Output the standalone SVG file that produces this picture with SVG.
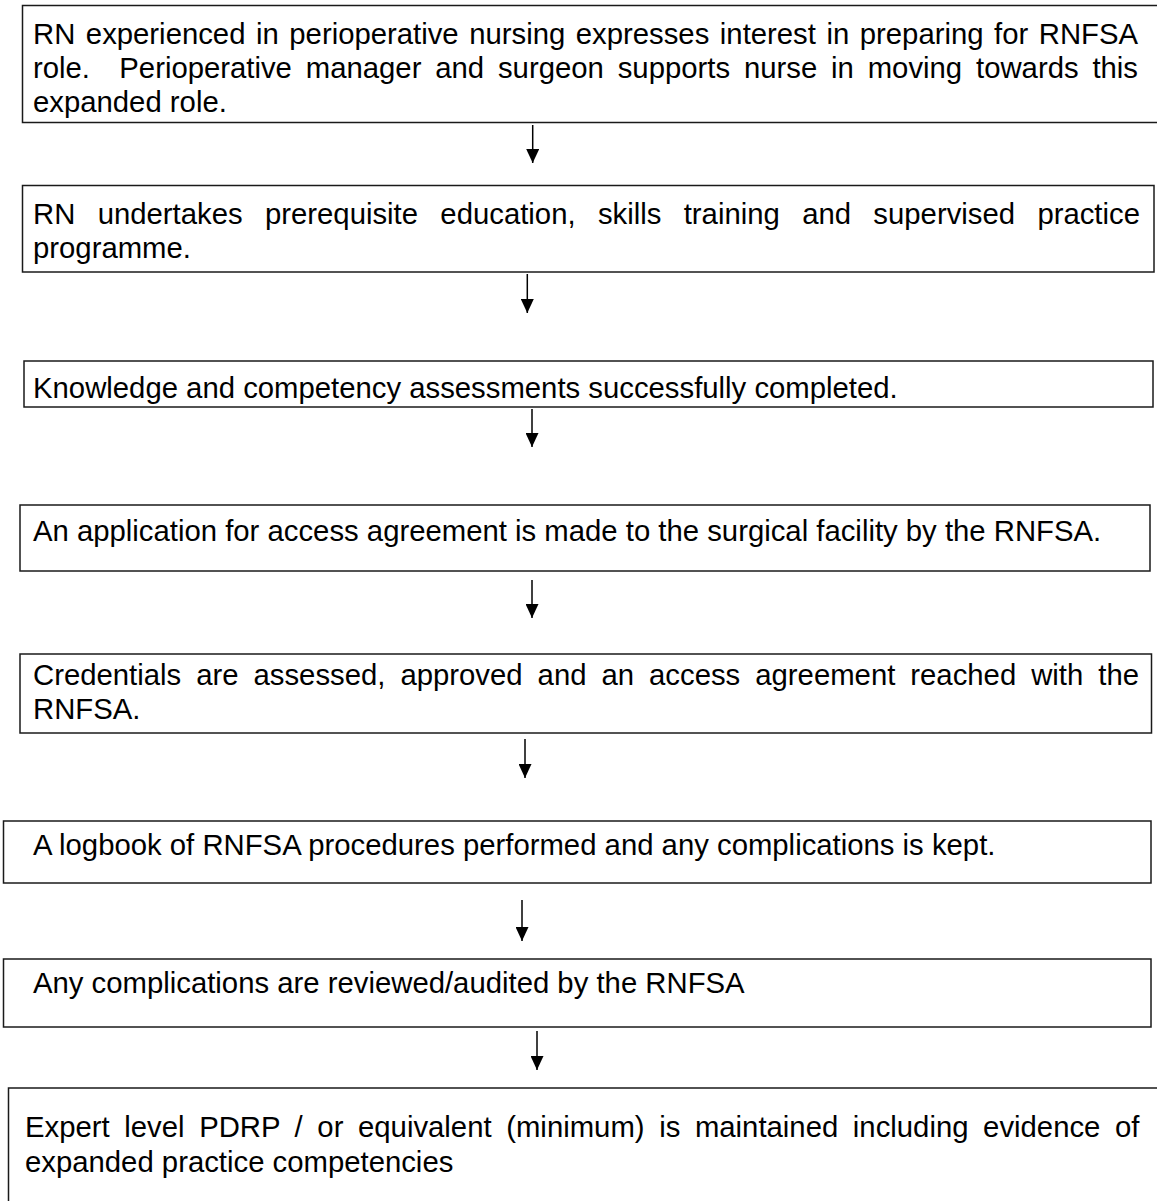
<svg xmlns="http://www.w3.org/2000/svg" width="1157" height="1201" viewBox="0 0 1157 1201">
<style>
.box{fill:#fff;stroke:#1a1a1a;stroke-width:1.5}
.t{font-family:"Liberation Sans",Arial,sans-serif;font-size:29.3px;fill:#000}
.c{stroke:#000;stroke-width:1.5;fill:none}
</style>
<defs>
<marker id="ah" viewBox="0 0 14 13" refX="14" refY="6.5" markerWidth="14" markerHeight="13" markerUnits="userSpaceOnUse" orient="auto">
<path d="M0,0 L14,6.5 L0,13 z" fill="#000"/>
</marker>
</defs>
<rect width="1157" height="1201" fill="#fff"/>
<g id="n1">
<rect class="box" x="22.5" y="5.5" width="1145" height="117"/>
<text class="t" x="33" y="44" word-spacing="2.38">RN experienced in perioperative nursing expresses interest in preparing for RNFSA</text>
<text class="t" y="78"><tspan x="33">role.</tspan><tspan x="119.3" word-spacing="5.71">Perioperative manager and surgeon supports nurse in moving towards this</tspan></text>
<text class="t" x="33" y="112">expanded role.</text>
</g>
<g id="n2">
<rect class="box" x="22.5" y="185.5" width="1131.5" height="86.5"/>
<text class="t" x="33" y="224" word-spacing="14.2">RN undertakes prerequisite education, skills training and supervised practice</text>
<text class="t" x="33" y="258">programme.</text>
</g>
<g id="n3">
<rect class="box" x="24" y="361" width="1129" height="46"/>
<text class="t" x="33" y="398">Knowledge and competency assessments successfully completed.</text>
</g>
<g id="n4">
<rect class="box" x="20" y="505" width="1130" height="66"/>
<text class="t" x="33" y="541">An application for access agreement is made to the surgical facility by the RNFSA.</text>
</g>
<g id="n5">
<rect class="box" x="20" y="654" width="1131.5" height="79"/>
<text class="t" x="33" y="685" word-spacing="6.86">Credentials are assessed, approved and an access agreement reached with the</text>
<text class="t" x="33" y="719">RNFSA.</text>
</g>
<g id="n6">
<rect class="box" x="3.5" y="821" width="1147.5" height="62"/>
<text class="t" x="33" y="855">A logbook of RNFSA procedures performed and any complications is kept.</text>
</g>
<g id="n7">
<rect class="box" x="3.5" y="959" width="1147.5" height="68"/>
<text class="t" x="33" y="993">Any complications are reviewed/audited by the RNFSA</text>
</g>
<g id="n8">
<rect class="box" x="8.5" y="1088" width="1160" height="130"/>
<text class="t" x="25" y="1137" word-spacing="6.47">Expert level PDRP / or equivalent (minimum) is maintained including evidence of</text>
<text class="t" x="25" y="1171.5">expanded practice competencies</text>
</g>
<g id="connectors">
<line class="c" x1="532.7" y1="125" x2="532.7" y2="163" marker-end="url(#ah)"/>
<line class="c" x1="527.3" y1="274" x2="527.3" y2="313" marker-end="url(#ah)"/>
<line class="c" x1="532" y1="409" x2="532" y2="447" marker-end="url(#ah)"/>
<line class="c" x1="532" y1="580" x2="532" y2="618" marker-end="url(#ah)"/>
<line class="c" x1="525" y1="739" x2="525" y2="778" marker-end="url(#ah)"/>
<line class="c" x1="522" y1="900" x2="522" y2="941" marker-end="url(#ah)"/>
<line class="c" x1="537" y1="1031" x2="537" y2="1070" marker-end="url(#ah)"/>
</g>
</svg>
